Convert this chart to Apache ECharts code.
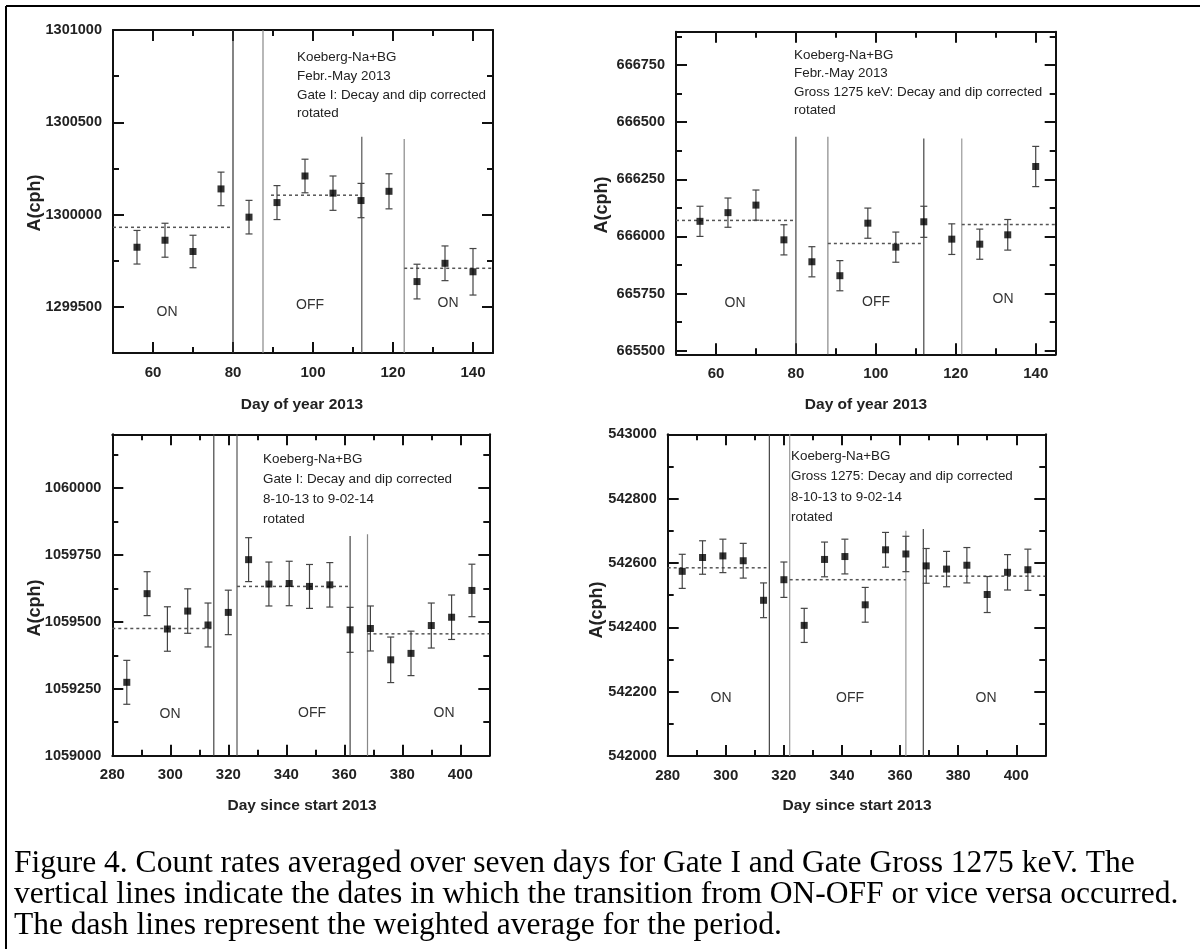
<!DOCTYPE html>
<html><head><meta charset="utf-8">
<script src="https://cdn.jsdelivr.net/npm/echarts@6/dist/echarts.min.js"></script>
<style>html,body{margin:0;padding:0;background:#fff}#c{width:1200px;height:949px}</style>
</head><body><div id="c"></div>
<script>
// ---------------- data ----------------
const daysSpring = [56, 63, 70, 77, 84, 91, 98, 105, 112, 119, 126, 133, 140];
const gateISpring = [1299823, 1299861, 1299800, 1300139, 1299986, 1300065, 1300209, 1300116, 1300076, 1300126, 1299637, 1299736, 1299690];
const gateISpringErr = [91, 92, 88, 91, 91, 92, 91, 93, 93, 95, 94, 94, 126];
const grossSpring = [666066, 666104, 666137, 665985, 665889, 665828, 666058, 665953, 666064, 665988, 665966, 666007, 666306];
const grossSpringErr = [66, 64, 66, 66, 66, 66, 66, 66, 68, 67, 66, 67, 88];

const daysWinter = [285, 292, 299, 306, 313, 320, 327, 334, 341, 348, 355, 362, 369, 376, 383, 390, 397, 404];
const gateIWinter = [1059274, 1059605, 1059473, 1059540, 1059488, 1059535, 1059732, 1059641, 1059643, 1059632, 1059638, 1059470, 1059475, 1059358, 1059382, 1059486, 1059517, 1059617];
const gateIWinterErr = [82, 82, 83, 83, 82, 83, 82, 82, 83, 82, 83, 84, 84, 85, 83, 84, 83, 98];
const grossWinter = [542574, 542617, 542622, 542607, 542484, 542548, 542406, 542611, 542620, 542470, 542641, 542628, 542591, 542581, 542593, 542502, 542571, 542579];
const grossWinterErr = [53, 52, 52, 54, 54, 55, 53, 54, 54, 54, 54, 55, 54, 55, 55, 56, 55, 64];

// weighted averages per period
const avgStartGateISpring = [50, 89.5, 122.8], avgEndGateISpring = [80, 112.2, 145], avgGateISpring = [1299931, 1300105, 1299709];
const avgStartGrossSpring = [50, 88, 121.5], avgEndGrossSpring = [80, 112, 145], avgGrossSpring = [666070, 665969, 666052];
const avgStartGateIWinter = [280, 323, 368], avgEndGateIWinter = [315, 362, 410], avgGateIWinter = [1059475, 1059632, 1059455];
const avgStartGrossWinter = [280, 322, 368], avgEndGrossWinter = [314, 362, 410], avgGrossWinter = [542585, 542548, 542559];

// ON/OFF transitions (day, top of the drawn line)
const transGateISpring = [80, 87.5, 112.2, 122.8], transTopGateISpring = [1301000, 1301000, 1300422, 1300410];
const transGrossSpring = [80, 88, 112, 121.5], transTopGrossSpring = [666436, 666436, 666428, 666428];
const transGateIWinter = [315, 323, 362, 368], transTopGateIWinter = [1060200, 1060200, 1059820, 1059827];
const transGrossWinter = [315, 322, 362, 368], transTopGrossWinter = [543000, 543000, 542700, 542706];

// tick values
const xMajorSpring = [60, 80, 100, 120, 140], xMinorSpring = [70, 90, 110, 130];
const xMajorWinter = [280, 300, 320, 340, 360, 380, 400], xMinorWinter = [290, 310, 330, 350, 370, 390];
const yMajorGateISpring = [1299500, 1300000, 1300500, 1301000], yMinorGateISpring = [1299750, 1300250, 1300750];
const yMajorGrossSpring = [665500, 665750, 666000, 666250, 666500, 666750], yMinorGrossSpring = [665625, 665875, 666125, 666375, 666625, 666875];
const yMajorGateIWinter = [1059000, 1059250, 1059500, 1059750, 1060000], yMinorGateIWinter = [1059125, 1059375, 1059625, 1059875, 1060125];
const yMajorGrossWinter = [542000, 542200, 542400, 542600, 542800, 543000], yMinorGrossWinter = [542100, 542300, 542500, 542700, 542900];

// texts
const notesGateISpring = ['Koeberg-Na+BG', 'Febr.-May 2013', 'Gate I: Decay and dip corrected', 'rotated'];
const notesGrossSpring = ['Koeberg-Na+BG', 'Febr.-May 2013', 'Gross 1275 keV: Decay and dip corrected', 'rotated'];
const notesGateIWinter = ['Koeberg-Na+BG', 'Gate I: Decay and dip corrected', '8-10-13 to 9-02-14', 'rotated'];
const notesGrossWinter = ['Koeberg-Na+BG', 'Gross 1275: Decay and dip corrected', '8-10-13 to 9-02-14', 'rotated'];
const stateLabels = ['ON', 'OFF', 'ON'];
const xNameSpring = 'Day of year 2013', xNameWinter = 'Day since start 2013', yName = 'A(cph)';
const captionLines = [
  'Figure 4. Count rates averaged over seven days for Gate I and Gate Gross 1275 keV. The',
  'vertical lines indicate the dates in which the transition from ON-OFF or vice versa occurred.',
  'The dash lines represent the weighted average for the period.'
];

// ---------------- layout ----------------
const SANS = '"Liberation Sans", Arial, sans-serif';
const SERIF = '"Liberation Serif", "Times New Roman", serif';

const panels = [
  { grid: { left: 113, top: 30, width: 380, height: 323 },
    xMin: 50, xMax: 145, yMin: 1299250, yMax: 1301000,
    xMajor: xMajorSpring, xMinor: xMinorSpring, yMajor: yMajorGateISpring, yMinor: yMinorGateISpring,
    days: daysSpring, vals: gateISpring, errs: gateISpringErr,
    avgS: avgStartGateISpring, avgE: avgEndGateISpring, avgV: avgGateISpring,
    trans: transGateISpring, transTop: transTopGateISpring, transColors: ['#333', '#888', '#555', '#888'],
    notes: notesGateISpring, noteX: 297, noteY: [57, 76, 95, 113],
    statePos: [[167, 312], [310, 305], [448, 303]],
    xName: xNameSpring, xNamePos: [302, 405], yNamePos: [35, 203] },
  { grid: { left: 676, top: 31.7, width: 379.7, height: 322.6 },
    xMin: 50, xMax: 145, yMin: 665484, yMax: 666896,
    xMajor: xMajorSpring, xMinor: xMinorSpring, yMajor: yMajorGrossSpring, yMinor: yMinorGrossSpring,
    days: daysSpring, vals: grossSpring, errs: grossSpringErr,
    avgS: avgStartGrossSpring, avgE: avgEndGrossSpring, avgV: avgGrossSpring,
    trans: transGrossSpring, transTop: transTopGrossSpring, transColors: ['#444', '#888', '#444', '#999'],
    notes: notesGrossSpring, noteX: 794, noteY: [55, 73.5, 92, 110],
    statePos: [[735, 303], [876, 302], [1003, 299]],
    xName: xNameSpring, xNamePos: [866, 405], yNamePos: [602, 205] },
  { grid: { left: 112.3, top: 434.3, width: 377, height: 321.4 },
    xMin: 280, xMax: 410, yMin: 1059000, yMax: 1060200,
    xMajor: xMajorWinter, xMinor: xMinorWinter, yMajor: yMajorGateIWinter, yMinor: yMinorGateIWinter,
    days: daysWinter, vals: gateIWinter, errs: gateIWinterErr,
    avgS: avgStartGateIWinter, avgE: avgEndGateIWinter, avgV: avgGateIWinter,
    trans: transGateIWinter, transTop: transTopGateIWinter, transColors: ['#444', '#555', '#444', '#888'],
    notes: notesGateIWinter, noteX: 263, noteY: [459, 479, 499, 519],
    statePos: [[170, 714], [312, 713], [444, 713]],
    xName: xNameWinter, xNamePos: [302, 806], yNamePos: [35, 608] },
  { grid: { left: 667.7, top: 434.3, width: 377.6, height: 321.7 },
    xMin: 280, xMax: 410, yMin: 542000, yMax: 543000,
    xMajor: xMajorWinter, xMinor: xMinorWinter, yMajor: yMajorGrossWinter, yMinor: yMinorGrossWinter,
    days: daysWinter, vals: grossWinter, errs: grossWinterErr,
    avgS: avgStartGrossWinter, avgE: avgEndGrossWinter, avgV: avgGrossWinter,
    trans: transGrossWinter, transTop: transTopGrossWinter, transColors: ['#444', '#999', '#999', '#444'],
    notes: notesGrossWinter, noteX: 791, noteY: [456, 476, 497, 517],
    statePos: [[721, 698], [850, 698], [986, 698]],
    xName: xNameWinter, xNamePos: [857, 806], yNamePos: [597, 610] }
];

const grids = [], xAxes = [], yAxes = [], series = [], graphics = [];
const AXC = '#111';

function makeAxes(list, gi, pos, min, max, majors, minors, withLabel, margin, fs) {
  const base = { gridIndex: gi, type: 'value', min: min, max: max, position: pos, offset: 0,
    splitLine: { show: false }, axisPointer: { show: false } };
  const major = Object.assign({}, base, {
    axisLine: { show: true, onZero: false, lineStyle: { color: AXC, width: 2 } },
    axisTick: { show: true, inside: true, length: 11, lineStyle: { color: AXC, width: 2 }, customValues: majors },
    axisLabel: withLabel
      ? { show: true, customValues: majors, fontFamily: SANS, fontWeight: 'bold', fontSize: fs, color: '#222', margin: margin,
          showMinLabel: true, showMaxLabel: true, formatter: function (v) { return String(v); } }
      : { show: false }
  });
  const minor = Object.assign({}, base, {
    axisLine: { show: false, onZero: false },
    axisTick: { show: true, inside: true, length: 6, lineStyle: { color: AXC, width: 2 }, customValues: minors },
    axisLabel: { show: false }
  });
  const idx = list.length;
  list.push(major, minor);
  return idx;
}

panels.forEach((p, gi) => {
  grids.push(Object.assign({ containLabel: false, show: false }, p.grid));
  const xi = makeAxes(xAxes, gi, 'bottom', p.xMin, p.xMax, p.xMajor, p.xMinor, true, 12, 15);
  makeAxes(xAxes, gi, 'top', p.xMin, p.xMax, p.xMajor, p.xMinor, false, 0, 0);
  const yi = makeAxes(yAxes, gi, 'left', p.yMin, p.yMax, p.yMajor, p.yMinor, true, 11, 14.5);
  makeAxes(yAxes, gi, 'right', p.yMin, p.yMax, p.yMajor, p.yMinor, false, 0, 0);

  // transition lines
  p.trans.forEach((d, k) => {
    series.push({ type: 'line', xAxisIndex: xi, yAxisIndex: yi, symbol: 'none', silent: true, z: 2,
      data: [[d, p.yMin], [d, p.transTop[k]]],
      lineStyle: { color: p.transColors[k], width: 1.2 } });
  });
  // weighted averages (dashed)
  p.avgV.forEach((v, k) => {
    series.push({ type: 'line', xAxisIndex: xi, yAxisIndex: yi, symbol: 'none', silent: true, z: 3,
      data: [[p.avgS[k], v], [p.avgE[k], v]],
      lineStyle: { color: '#555', width: 1.5, type: [3, 3] } });
  });
  // error bars
  series.push({ type: 'custom', xAxisIndex: xi, yAxisIndex: yi, z: 4, silent: true,
    data: p.days.map((d, k) => [d, p.vals[k], p.errs[k]]),
    encode: { x: 0, y: 1 },
    renderItem: function (params, api) {
      const x = api.value(0), y = api.value(1), e = api.value(2);
      const t = api.coord([x, y + e]), b = api.coord([x, y - e]);
      const hw = 3.5, st = { stroke: '#444', lineWidth: 1.2 };
      return { type: 'group', children: [
        { type: 'line', shape: { x1: t[0], y1: t[1], x2: b[0], y2: b[1] }, style: st },
        { type: 'line', shape: { x1: t[0] - hw, y1: t[1], x2: t[0] + hw, y2: t[1] }, style: st },
        { type: 'line', shape: { x1: b[0] - hw, y1: b[1], x2: b[0] + hw, y2: b[1] }, style: st }
      ] };
    } });
  // points
  series.push({ type: 'scatter', xAxisIndex: xi, yAxisIndex: yi, z: 5, silent: true,
    symbol: 'rect', symbolSize: 7, itemStyle: { color: '#000' },
    data: p.days.map((d, k) => [d, p.vals[k]]) });

  // annotations
  p.notes.forEach((t, k) => {
    graphics.push({ type: 'text', x: p.noteX, y: p.noteY[k], silent: true,
      style: { text: t, font: '13.4px ' + SANS, fill: '#222', verticalAlign: 'middle', align: 'left' } });
  });
  stateLabels.forEach((t, k) => {
    graphics.push({ type: 'text', x: p.statePos[k][0], y: p.statePos[k][1], silent: true,
      style: { text: t, font: '14px ' + SANS, fill: '#333', verticalAlign: 'middle', align: 'center' } });
  });
  graphics.push({ type: 'text', x: p.xNamePos[0], y: p.xNamePos[1], silent: true,
    style: { text: p.xName, font: 'bold 15.5px ' + SANS, fill: '#222', verticalAlign: 'middle', align: 'center' } });
  graphics.push({ type: 'text', x: p.yNamePos[0], y: p.yNamePos[1], rotation: Math.PI / 2, silent: true,
    style: { text: yName, font: 'bold 18px ' + SANS, fill: '#222', verticalAlign: 'middle', align: 'center' } });
});

// frame and caption
graphics.push({ type: 'line', silent: true, shape: { x1: 6, y1: 6, x2: 1200, y2: 6 }, style: { stroke: '#000', lineWidth: 2 } });
graphics.push({ type: 'line', silent: true, shape: { x1: 6, y1: 6, x2: 6, y2: 949 }, style: { stroke: '#000', lineWidth: 2 } });
const capY = [864, 895, 926];
captionLines.forEach((t, k) => {
  graphics.push({ type: 'text', x: 14, y: capY[k], silent: true,
    style: { text: t, font: '31.5px ' + SERIF, fill: '#000', verticalAlign: 'middle', align: 'left' } });
});

const chart = echarts.init(document.getElementById('c'), null, { renderer: 'canvas', width: 1200, height: 949 });
chart.setOption({
  animation: false,
  backgroundColor: '#fff',
  grid: grids, xAxis: xAxes, yAxis: yAxes, series: series, graphic: graphics
});
</script></body></html>
